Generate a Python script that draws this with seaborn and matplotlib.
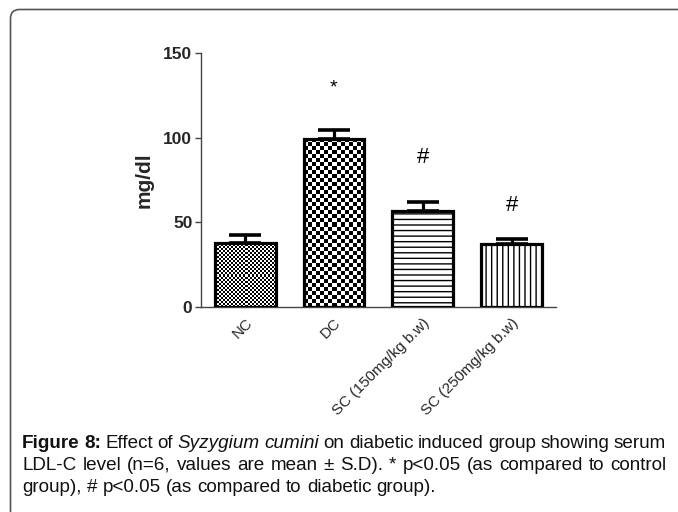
import numpy as np
import pandas as pd
import matplotlib
matplotlib.use("Agg")
import matplotlib.pyplot as plt
import seaborn as sns
from matplotlib import font_manager
from matplotlib.patches import FancyBboxPatch
from matplotlib.transforms import IdentityTransform

# ---- data ----
groups = ["NC", "DC", "SC (150mg/kg b.w)", "SC (250mg/kg b.w)"]
means = [38.0, 99.0, 57.0, 37.0]
sds = [4.5, 5.5, 5.0, 3.0]
marks = ["", "*", "#", "#"]
mark_y = [0, 129, 88, 60]
y_ticks = [0, 50, 100, 150]
caption_lines = [
    [("Figure", "bold"), ("8:", "bold"), ("Effect", "normal"), ("of", "normal"),
     ("Syzygium", "italic"), ("cumini", "italic"), ("on", "normal"), ("diabetic", "normal"),
     ("induced", "normal"), ("group", "normal"), ("showing", "normal"), ("serum", "normal")],
    [(w, "normal") for w in "LDL-C level (n=6, values are mean \u00b1 S.D). * p<0.05 (as compared to control".split(" ")],
    [(w, "normal") for w in "group), # p<0.05 (as compared to diabetic group).".split(" ")],
]

def have(fam):
    try:
        font_manager.findfont(font_manager.FontProperties(family=fam), fallback_to_default=False)
        return True
    except Exception:
        return False

NARROW = "Liberation Sans Narrow" if have("Liberation Sans Narrow") else "Liberation Sans"
REG = "Liberation Sans"

sns.set_theme(style="white")
plt.rcParams["font.family"] = [REG, "DejaVu Sans"]
plt.rcParams["hatch.linewidth"] = 1.0
plt.rcParams["hatch.color"] = "#222222"

W, H = 678, 512
fig = plt.figure(figsize=(W / 100, H / 100), dpi=100)
fig.patch.set_facecolor("white")
ax = fig.add_axes([200.7 / W, 1 - 307.3 / H, (556 - 200.7) / W, (307.3 - 52.7) / H])

df = pd.DataFrame({"group": groups, "mean": means})
sns.barplot(data=df, x="group", y="mean", ax=ax, errorbar=None, width=0.685,
            color="white", edgecolor="black", linewidth=2.3, zorder=3)

ax.set_xlim(-0.5, 3.5)
ax.set_ylim(0, 150)
ax.set_yticks(y_ticks)

# textures
bars = ax.patches[:4]
styles = ["fine", "coarse", "---", "|||"]
for p, st in zip(bars, styles):
    if st in ("---", "|||"):
        p.set_hatch(st)
        p.set_facecolor("white")
    else:
        x0, w, h = p.get_x(), p.get_width(), p.get_height()
        (px0, py0) = ax.transData.transform((x0, 0))
        (px1, py1) = ax.transData.transform((x0 + w, h))
        cell = 2.0 if st == "fine" else 4.0
        nx = max(1, int(round((px1 - px0) / cell)))
        ny = max(1, int(round((py1 - py0) / cell)))
        arr = (np.add.outer(np.arange(ny), np.arange(nx)) % 2).astype(float)
        im = ax.imshow(arr, cmap="gray", vmin=0, vmax=1, interpolation="nearest",
                       extent=(x0, x0 + w, 0, h), aspect="auto", zorder=2.5)
        im.set_clip_path(p)
        p.set_facecolor("none")
ax.set_xlim(-0.5, 3.5)
ax.set_ylim(0, 150)
ax.set_aspect("auto")

# error bars (upper only)
ax.errorbar(range(len(groups)), means, yerr=[np.zeros(len(sds)), sds], fmt="none",
            ecolor="black", elinewidth=2.3, capsize=11.5, capthick=2.6, zorder=4)

# significance marks
for i, (m, yv) in enumerate(zip(marks, mark_y)):
    if m:
        ax.text(i, yv, m, ha="center", va="center", fontsize=16 if m == "#" else 14,
                family=NARROW, color="black")

# axes styling
for s in ["top", "right"]:
    ax.spines[s].set_visible(False)
for s in ["left", "bottom"]:
    ax.spines[s].set_color("#444444")
    ax.spines[s].set_linewidth(1.0)
ax.tick_params(axis="y", which="both", left=True, length=4, width=1, color="#444444",
               pad=2, labelsize=12.5)
ax.tick_params(axis="x", length=0, pad=6)
for t in ax.get_yticklabels():
    t.set_fontweight("bold")
    t.set_family(NARROW)
ax.set_xticks(range(len(groups)))
ax.set_xticklabels(groups, rotation=45, ha="right", rotation_mode="anchor",
                   fontsize=11, family=NARROW)
ax.set_xlabel("")
ax.set_ylabel("mg/dl", fontsize=15, fontweight="bold")
ax.yaxis.set_label_coords(-47 / (556 - 200.7), (307.3 - 180) / (307.3 - 52.7))

# border (rounded, only top-left visible)
fig.patches.append(FancyBboxPatch((10.5, -50), 720, 512 - 9.5 + 50,
                                  boxstyle="round,pad=0,rounding_size=9",
                                  transform=IdentityTransform(), facecolor="none",
                                  edgecolor="#555555", linewidth=1.2, figure=fig))

# caption, justified
renderer = fig.canvas.get_renderer()
left, right = 22, 666
line_y = [443, 465, 487]
cap_size = 13.6
probe1 = fig.text(0, 0, "a a", fontsize=cap_size, family=NARROW)
probe2 = fig.text(0, 0, "aa", fontsize=cap_size, family=NARROW)
sp = probe1.get_window_extent(renderer).width - probe2.get_window_extent(renderer).width
probe1.remove()
probe2.remove()
for li, (words, yy) in enumerate(zip(caption_lines, line_y)):
    texts = []
    for w, st in words:
        kw = dict(fontsize=cap_size, family=NARROW, color="#111111", va="center", ha="left",
                  transform=IdentityTransform())
        if st == "bold":
            kw["fontweight"] = "bold"
        elif st == "italic":
            kw["fontstyle"] = "italic"
        t = fig.text(0, H - yy, w, **kw)
        texts.append(t)
    widths = [t.get_window_extent(renderer).width for t in texts]
    if li < 2:
        gap = (right - left - sum(widths)) / (len(widths) - 1)
    else:
        gap = sp
    x = left
    for t, w in zip(texts, widths):
        t.set_x(x)
        x += w + gap

fig.savefig("out.png", dpi=100)
